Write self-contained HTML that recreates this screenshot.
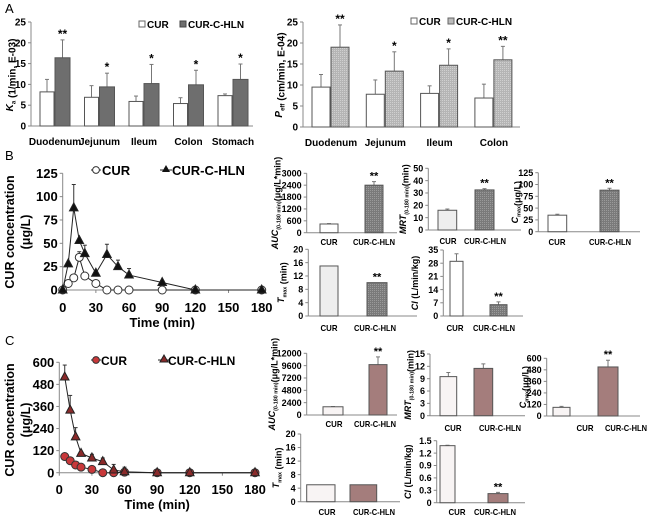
<!DOCTYPE html>
<html><head><meta charset="utf-8"><style>
html,body{margin:0;padding:0;background:#fff;}
svg{display:block;font-family:"Liberation Sans",Arial,sans-serif;font-weight:bold;}
</style></head><body>
<svg id="fig" width="650" height="518" viewBox="0 0 650 518" xmlns="http://www.w3.org/2000/svg">
<defs>
<pattern id="dots" width="2" height="2" patternUnits="userSpaceOnUse"><rect width="2" height="2" fill="#7a7a7a"/><rect width="1" height="1" fill="#9a9a9a"/></pattern>
<pattern id="dotsL" width="2" height="2" patternUnits="userSpaceOnUse"><rect width="2" height="2" fill="#b5b5b5"/><rect width="1" height="1" fill="#d0d0d0"/></pattern>
</defs>
<text x="5" y="13" font-size="13" font-weight="normal">A</text>
<text x="5" y="160" font-size="13" font-weight="normal">B</text>
<text x="5" y="345" font-size="13" font-weight="normal">C</text>
</svg>
<script>
// ---- Panel A data ----
const segA1 = ["Duodenum","Jejunum","Ileum","Colon","Stomach"];
const kaCur = [8.2,6.9,5.9,5.4,7.3];
const kaCurErr = [3.0,2.8,1.3,1.4,0.4];
const kaHln = [16.4,9.4,10.2,9.9,11.2];
const kaHlnErr = [4.3,3.3,4.6,3.5,3.7];
const kaStars = ["**","*","*","*","*"];
const segA2 = ["Duodenum","Jejunum","Ileum","Colon"];
const peCur = [9.5,7.8,8.0,6.9];
const peCurErr = [3.0,3.4,1.8,3.3];
const peHln = [19.0,13.3,14.7,16.0];
const peHlnErr = [5.3,4.6,3.9,3.2];
const peStars = ["**","*","*","**"];
const tickA = [0,5,10,15,20,25];
// ---- Panel B line data ----
const timeB = [0,5,10,15,20,30,40,50,60,90,120,180];
const concBCur = [0,7,13,35,15,7,0,0,0,0,0,0];
const concBCurErr = [0,0,0,6,0,0,0,0,0,0,0,0];
const concBHln = [0,28,88,53,39,18,38,25,16,8,0,0];
const concBHlnErr = [0,0,25,0,9,0,11,7,7,2,0,0];
const tickBY = [0,25,50,75,100,125];
const tickX = [0,30,60,90,120,150,180];
// ---- Panel C line data ----
const timeC = [5,10,15,20,30,40,50,60,90,120,180];
const concCCur = [88,65,42,30,18,0,0,3,0,0,0];
const concCHln = [520,340,195,105,80,60,15,5,0,0,0];
const concCHlnErr = [65,80,50,0,20,20,30,25,0,0,0];
const tickCY = [0,120,240,360,480,600];
// ---- PK bar data (CUR, CUR-C-HLN) ----
const bAuc = [440,2400], bAucErr=[20,180], bAucT=[0,600,1200,1800,2400,3000];
const bMrt = [16,32.5], bMrtErr=[1,1], bMrtT=[0,10,20,30,40,50];
const bCmax = [35,88], bCmaxErr=[2,4], bCmaxT=[0,25,50,75,100,125];
const bTmax = [15,10], bTmaxErr=[0,0], bTmaxT=[0,4,8,12,16,20];
const bCl = [29,6], bClErr=[4,1.5], bClT=[0,7,14,21,28,35];
const cAuc = [1600,9800], cAucErr=[50,1500], cAucT=[0,2400,4800,7200,9600,12000];
const cMrt = [9.5,11.5], cMrtErr=[1,1.1], cMrtT=[0,3,6,9,12,15];
const cCmax = [90,510], cCmaxErr=[10,70], cCmaxT=[0,120,240,360,480,600];
const cTmax = [5,5], cTmaxErr=[0,0], cTmaxT=[0,4,8,12,16,20];
const cCl = [1.38,0.22], cClErr=[0.01,0.03], cClT=[0,0.3,0.6,0.9,1.2,1.5];
const pkGroups = ["CUR","CUR-C-HLN"];

const NS="http://www.w3.org/2000/svg";
const svg=document.getElementById('fig');
function mk(tag,attrs,parent){const e=document.createElementNS(NS,tag);for(const k in attrs)e.setAttribute(k,attrs[k]);(parent||svg).appendChild(e);return e;}
function txt(x,y,s,size,anchor,parent){const t=mk('text',{x:x,y:y,'font-size':size,'text-anchor':anchor||'middle'},parent);t.textContent=s;return t;}
function axisY(g,ax,y0,yTop,ticks,xEnd,fs){
  const max=ticks[ticks.length-1];const sc=v=>y0-(v/max)*(y0-yTop);
  const a=mk('line',{x1:ax,y1:yTop,x2:ax,y2:y0,stroke:'#888','stroke-width':1},g);
  
  const b=mk('line',{x1:ax,y1:y0,x2:xEnd,y2:y0,stroke:'#888','stroke-width':1},g);
  
  ticks.forEach(t=>{mk('line',{x1:ax-3,y1:sc(t),x2:ax,y2:sc(t),stroke:'#888'},g);
    const l=txt(ax-5,sc(t)+fs*0.35,String(t),fs,'end',g);
    });
  return sc;
}
function bar(g,x1,x2,sc,v,e,fill,star,fs){
  const y0=sc(0);
  if(e>0){mk('line',{x1:(x1+x2)/2,y1:sc(v),x2:(x1+x2)/2,y2:sc(v+e),stroke:'#777'},g);
    mk('line',{x1:(x1+x2)/2-2,y1:sc(v+e),x2:(x1+x2)/2+2,y2:sc(v+e),stroke:'#777'},g);}
  const r=mk('rect',{x:x1,y:sc(v),width:x2-x1,height:y0-sc(v),fill:fill,stroke:'#555','stroke-width':1},g);
  
  
  if(star){const s=txt((x1+x2)/2,sc(v+e)-2,star,fs,'middle',g);
    }
}
function ylab(g,x,y,parts,fs){
  const t=mk('text',{transform:`translate(${x},${y}) rotate(-90)`,'text-anchor':'middle','font-size':fs},g);
  
  parts.forEach(p=>{const s=mk('tspan',p[1]?{'font-size':fs*0.6,dy:fs*0.25}:{},t);s.textContent=p[0];if(p[1]){const s2=mk('tspan',{dy:-fs*0.25},t);s2.textContent='';}if(p[2])s.setAttribute('font-style','italic');});
}
// ---- Panel A left ----
(function(){
  const g=mk('g',{});
  const sc=axisY(g,31,126,22,tickA,253,10);
  segA1.forEach((s,i)=>{const x=40+i*44.5;
    bar(g,x,x+14,sc,kaCur[i],kaCurErr[i],'#fff',null,11);
    bar(g,x+15,x+30,sc,kaHln[i],kaHlnErr[i],'#6e6e6e',kaStars[i],12);
    const l=txt(x+15,145,s,10,'middle',g);});
  ylab(g,13,75,[['K',0,1],['a',1],[' (1/min, E-03)']],10);
  const lg=mk('g',{},g);
  mk('rect',{x:139,y:21,width:6,height:6,fill:'#fff',stroke:'#666'},lg);txt(147,28,'CUR',10,'start',lg);
  mk('rect',{x:180,y:21,width:6,height:6,fill:'#6e6e6e',stroke:'#444'},lg);txt(188,28,'CUR-C-HLN',10,'start',lg);
})();
// ---- Panel A right ----
(function(){
  const g=mk('g',{});
  const sc=axisY(g,303,127,22,tickA,520,10);
  segA2.forEach((s,i)=>{const x=312+i*54.3;
    bar(g,x,x+18,sc,peCur[i],peCurErr[i],'#fff',null,11);
    bar(g,x+19,x+37,sc,peHln[i],peHlnErr[i],'url(#dotsL)',peStars[i],12);
    const l=txt(x+19,146,s,10,'middle',g);});
  ylab(g,282,75,[['P',0,1],['eff',1],[' (cm/min, E-04)']],10);
  const lg=mk('g',{},g);
  mk('rect',{x:411,y:18,width:6,height:6,fill:'#fff',stroke:'#666'},lg);txt(419,25,'CUR',10,'start',lg);
  mk('rect',{x:448,y:18,width:6,height:6,fill:'#bbb',stroke:'#666'},lg);txt(456,25,'CUR-C-HLN',10,'start',lg);
})();
// ---- line charts ----
function lineChart(name,ax,xEnd,y0,yTop,yT,times,cur,curErr,hln,hlnErr,curStyle,hlnFill,tickY,titleY){
  const g=mk('g',{});
  const sy=axisY(g,ax,y0,yTop,yT,xEnd,13);
  const sx=v=>ax+v/180*(xEnd-ax);
  tickX.forEach(t=>{mk('line',{x1:sx(t),y1:y0,x2:sx(t),y2:y0+3,stroke:'#888'},g);
    const l=txt(sx(t),tickY,String(t),13,'middle',g);});
  const xt=txt((ax+xEnd)/2,titleY,'Time (min)',13,'middle',g);
  function series(vals,errs,kind,fill,sn){
    const sg=mk('g',{},g);
    vals.forEach((v,i)=>{if(errs&&errs[i]>0){mk('line',{x1:sx(times[i]),y1:sy(v),x2:sx(times[i]),y2:sy(v+errs[i]),stroke:'#333'},sg);
      mk('line',{x1:sx(times[i])-2,y1:sy(v+errs[i]),x2:sx(times[i])+2,y2:sy(v+errs[i]),stroke:'#333'},sg);}});
    mk('polyline',{points:vals.map((v,i)=>sx(times[i])+','+sy(v)).join(' '),fill:'none',stroke:'#222','stroke-width':1},sg);
    vals.forEach((v,i)=>{const x=sx(times[i]),y=sy(v);let m;
      if(kind==='c')m=mk('circle',{cx:x,cy:y,r:4,fill:fill,stroke:'#333'},sg);
      else m=mk('polygon',{points:`${x},${y-5} ${x-4.3},${y+3} ${x+4.3},${y+3}`,fill:fill,stroke:'#222'},sg);
      
      });
  }
  series(cur,curErr,'c',curStyle,'series-cur');
  series(hln,hlnErr,'t',hlnFill,'series-cur-c-hln');
  return g;
}
(function(){
  const g=lineChart('plasma-concentration-chart-b',62.7,261.7,290,173.3,tickBY,timeB,concBCur,concBCurErr,concBHln,concBHlnErr,'#fff','#111',312,327);
  const t=mk('text',{transform:'translate(14,232) rotate(-90)','text-anchor':'middle','font-size':12.5},g);t.textContent='CUR concentration';
  
  const t2=mk('text',{transform:'translate(30,232) rotate(-90)','text-anchor':'middle','font-size':12.5},g);t2.textContent='(μg/L)';
  const lg=mk('g',{},g);
  mk('line',{x1:91,y1:170,x2:101,y2:170,stroke:'#222'},lg);mk('circle',{cx:96,cy:170,r:3.4,fill:'#fff',stroke:'#333'},lg);txt(102,175,'CUR',13,'start',lg);
  mk('line',{x1:160,y1:170,x2:172,y2:170,stroke:'#222'},lg);mk('polygon',{points:'166,165 162,172 170,172',fill:'#111'},lg);txt(172,175,'CUR-C-HLN',13,'start',lg);
})();
(function(){
  const g=lineChart('plasma-concentration-chart-c',59.3,255,472.7,362.3,tickCY,timeC,concCCur,null,concCHln,concCHlnErr,'#c8383a','#8a2a2a',494,509);
  const t=mk('text',{transform:'translate(14,420) rotate(-90)','text-anchor':'middle','font-size':12.5},g);t.textContent='CUR concentration';
  
  const t2=mk('text',{transform:'translate(30,420) rotate(-90)','text-anchor':'middle','font-size':12.5},g);t2.textContent='(μg/L)';
  const lg=mk('g',{},g);
  mk('line',{x1:91,y1:360,x2:101,y2:360,stroke:'#222'},lg);mk('circle',{cx:96,cy:360,r:3.4,fill:'#c8383a',stroke:'#333'},lg);txt(101,365,'CUR',12,'start',lg);
  mk('line',{x1:158,y1:360,x2:170,y2:360,stroke:'#222'},lg);mk('polygon',{points:'164,355 160,362 168,362',fill:'#8a2a2a',stroke:'#222'},lg);txt(168,365,'CUR-C-HLN',12,'start',lg);
})();
// ---- PK small bar charts ----
function pk(name,ax,y0,yTop,xEnd,ticks,vals,errs,b1,b2,fills,stars,labY,lab1,lab2,ylabel,ylx){
  const g=mk('g',{});
  const sc=axisY(g,ax,y0,yTop,ticks,xEnd,9);
  bar(g,b1[0],b1[1],sc,vals[0],errs[0],fills[0],null,10);
  bar(g,b2[0],b2[1],sc,vals[1],errs[1],fills[1],stars[1],11);
  const l1=txt(lab1,labY,pkGroups[0],8.5,'middle',g);
  l1.setAttribute('textLength','17');l1.setAttribute('lengthAdjust','spacingAndGlyphs');
  const l2=txt(lab2,labY,pkGroups[1],8.5,'middle',g);
  l2.setAttribute('textLength','42');l2.setAttribute('lengthAdjust','spacingAndGlyphs');
  ylab(g,ylx,(y0+yTop)/2,ylabel,9);
}
const GB='url(#dots)',BR='#a47d7c';
pk('auc-chart-b',306.7,232.7,173.3,397,bAucT,bAuc,bAucErr,[320,338],[365,383],['#fff',GB],[null,'**'],245,329,374,[['AUC',0,1],['(0-180 min)',1],['(μg/L*min)']],278);
pk('mrt-chart-b',428.3,230,168.3,521,bMrtT,bMrt,bMrtErr,[438,456.7],[475,494],['#eee',GB],[null,'**'],244,448,485,[['MRT',0,1],['(0-180 min)',1],['(min)']],406);
pk('cmax-chart-b',538.3,231.7,172.7,640,bCmaxT,bCmax,bCmaxErr,[548,566.7],[600,619],['#fff',GB],[null,'**'],245,557,610,[['C',0,1],['max',1],['(μg/L)']],518);
pk('tmax-chart-b',308.3,316,249.3,417,bTmaxT,bTmax,bTmaxErr,[320,338],[367,387],['#eee',GB],[null,'**'],331,329,375,[['T',0,1],['max',1],[' (min)']],284);
pk('cl-chart-b',443.3,316,250,523,bClT,bCl,bClErr,[450,463],[490,507],['#fff',GB],[null,'**'],331,455,494,[['Cl',0,1],[' (L/min/kg)']],418);
pk('auc-chart-c',306.7,415,353.3,397,cAucT,cAuc,cAucErr,[323,343],[369,387],['#f8f4f4',BR],[null,'**'],427,334,375,[['AUC',0,1],['(0-180 min)',1],['(μg/L*min)']],275);
pk('mrt-chart-c',430,415.7,354,525,cMrtT,cMrt,cMrtErr,[440,456.7],[474,492.7],['#f8f4f4',BR],[null,null],431,453,500,[['MRT',0,1],['(0-180 min)',1],['(min)']],411);
pk('cmax-chart-c',546.7,416,358.3,640,cCmaxT,cCmax,cCmaxErr,[553,570],[598,618],['#f8f4f4',BR],[null,'**'],431,585,626,[['C',0,1],['max',1],['(μg/L)']],526);
pk('tmax-chart-c',300.7,501.7,434,400,cTmaxT,cTmax,cTmaxErr,[306.7,335],[350,376.7],['#f8f4f4',BR],[null,null],515,327,374,[['T',0,1],['max',1],[' (min)']],279);
pk('cl-chart-c',436.7,502.7,440.7,525,cClT,cCl,cClErr,[440,455],[488,508],['#f8f4f4',BR],[null,'**'],515,457,495,[['Cl',0,1],[' (L/min/kg)']],411);
</script>
</body></html>
